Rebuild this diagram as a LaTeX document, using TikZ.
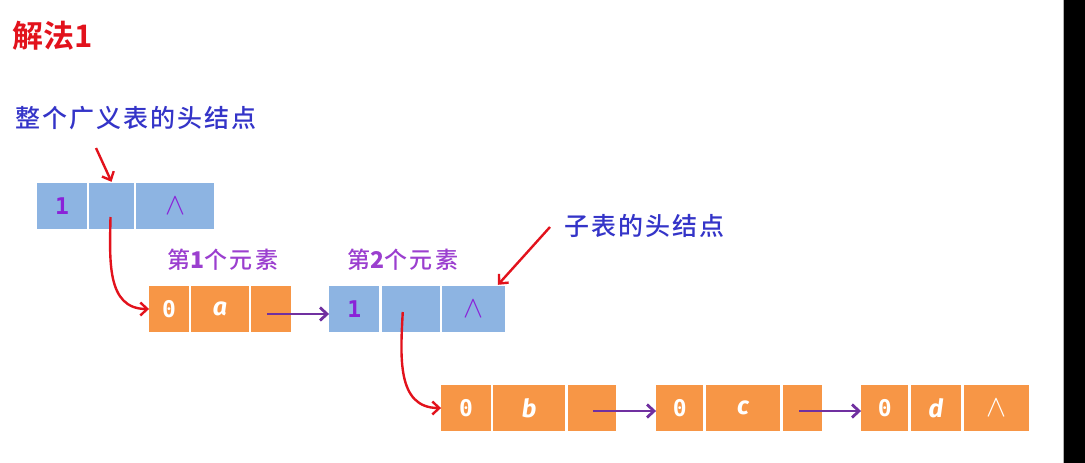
\documentclass[tikz,border=0pt]{standalone}
\usepackage{fontspec}
\usepackage{graphicx}
\usetikzlibrary{arrows.meta}
\setmainfont{DejaVu Sans}
\setmonofont{DejaVu Sans Mono}
\newfontfamily\cjk[BoldFont={Noto Sans CJK SC Bold}]{Noto Sans CJK SC}
\newfontfamily\cjkmed{Noto Sans CJK SC Medium}
\newfontfamily\itfont{Fira Sans}

\definecolor{cellblue}{HTML}{8DB4E2}
\definecolor{cellorange}{HTML}{F79646}
\definecolor{arrowred}{HTML}{E2121C}
\definecolor{arrowpurple}{HTML}{7030A0}
\definecolor{numpurple}{HTML}{8A22D8}
\definecolor{labelpurple}{HTML}{9B3FCF}
\definecolor{labelblue}{HTML}{3434C8}

\newcommand{\nil}{\resizebox{20pt}{17pt}{$\wedge$}}
\newcommand{\tag}[1]{{\fontsize{23}{23}\selectfont\ttfamily\bfseries #1}}
\newcommand{\atom}[1]{{\fontsize{25}{25}\selectfont\itfont\bfseries\itshape #1}}

\tikzset{
  bcell/.style={fill=cellblue, inner sep=0pt, minimum height=46pt, text=numpurple},
  ocell/.style={fill=cellorange, inner sep=0pt, minimum height=46pt, text=white},
  redarrow/.style={draw=arrowred, line width=2.4pt, -{Straight Barb[length=7pt,width=13pt]}},
  purplearrow/.style={draw=arrowpurple, line width=2.8pt, -{Straight Barb[length=7pt,width=13pt]}},
  bluelabel/.style={text=labelblue, font=\cjkmed\fontsize{25}{25}\selectfont\addfontfeature{LetterSpace=8}},
  purplelabel/.style={text=labelpurple, font=\cjkmed\fontsize{23}{23}\selectfont\addfontfeature{LetterSpace=13}}
}

\begin{document}
\begin{tikzpicture}[x=1pt,y=1pt]
\useasboundingbox (0,0) rectangle (1085,-463);
\fill[black] (1064,0) rectangle (1085,-463);
\draw[gray!60, line width=1pt] (1063,0) -- (1063,-463);

\node[text=arrowred, font=\cjk\bfseries\fontsize{31}{31}\selectfont] (title) at (53,-36) {解法1};

% head node of the whole list
\node[bluelabel] (whole) at (136,-118) {整个广义表的头结点};
\node[bcell, minimum width=49.5pt] (h1) at (62,-206) {\tag{1}};
\node[bcell, minimum width=44.5pt] (h2) at (111.5,-206) {};
\node[bcell, minimum width=77.5pt] (h3) at (175,-206) {\nil};
\coordinate (wholetail) at (96,-148);
\draw[redarrow] (wholetail) -- ([yshift=1pt]h2.north);

% first element
\node[purplelabel] (first) at (223,-260) {第{\bfseries 1}个元素};
\node[ocell, minimum width=39.5pt] (a1) at (169,-309) {\tag{0}};
\node[ocell, minimum width=57.5pt] (a2) at (220,-309) {\atom{a}};
\node[ocell, minimum width=39.5pt] (a3) at (271,-309) {};
\draw[redarrow] ([shift={(-1,-11)}]h2.center) to[out=-91,in=180,looseness=1.1] (a1.west);

% second element: head node of the sub-list
\node[purplelabel] (second) at (403,-260) {第{\bfseries 2}个元素};
\node[bcell, minimum width=50pt] (s1) at (354.25,-309) {\tag{1}};
\node[bcell, minimum width=58pt] (s2) at (410.75,-309) {};
\node[bcell, minimum width=62.5pt] (s3) at (473.5,-309) {\nil};
\draw[purplearrow] ([shift={(-4,-5)}]a3.center) -- ([yshift=-5pt]s1.west);
\node[bluelabel] (sub) at (644,-226) {子表的头结点};
\coordinate (subtail) at (550,-227);
\draw[redarrow] (subtail) -- ([shift={(-7,1)}]s3.north east);

% sub-list
\node[ocell, minimum width=49.5pt] (b1) at (466,-408) {\tag{0}};
\node[ocell, minimum width=72pt] (b2) at (529.25,-408) {\atom{b}};
\node[ocell, minimum width=48pt] (b3) at (591.75,-408) {};
\node[ocell, minimum width=47pt] (c1) at (679.75,-408) {\tag{0}};
\node[ocell, minimum width=74.5pt] (c2) at (743,-408) {\atom{c}};
\node[ocell, minimum width=39pt] (c3) at (802.25,-408) {};
\node[ocell, minimum width=47pt] (d1) at (884.75,-408) {\tag{0}};
\node[ocell, minimum width=50.5pt] (d2) at (936,-408) {\atom{d}};
\node[ocell, minimum width=65pt] (d3) at (996.25,-408) {\nil};
\draw[redarrow] ([shift={(-8,-3)}]s2.center) to[out=-93,in=180,looseness=1.1] (b1.west);
\draw[purplearrow] ([shift={(1,-3)}]b3.center) -- ([yshift=-3pt]c1.west);
\draw[purplearrow] ([shift={(-3,-3)}]c3.center) -- ([yshift=-3pt]d1.west);
\end{tikzpicture}
\end{document}
